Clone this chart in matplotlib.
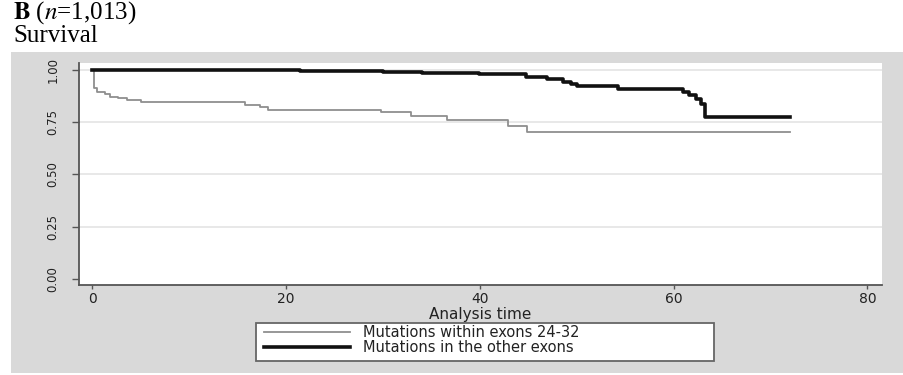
import matplotlib
matplotlib.use("Agg")
import matplotlib.pyplot as plt
from matplotlib.patches import Rectangle

plt.rcParams["mathtext.fontset"] = "stix"

# Kaplan-Meier estimates, analysis time vs survival
t_exons = [0, 0.15, 0.5, 1.3, 1.9, 2.7, 3.6, 5.0, 15.8, 17.3, 18.2, 29.8, 32.9, 36.6, 42.9, 44.9, 72]
s_exons = [1.0, 0.912, 0.896, 0.884, 0.872, 0.864, 0.856, 0.845, 0.833, 0.822, 0.809,
           0.797, 0.781, 0.761, 0.732, 0.702, 0.702]
t_other = [0, 21.5, 26, 30, 34, 39.9, 44.8, 46.9, 48.6, 49.4, 50.0, 54.3, 61.0, 61.6,
           62.3, 62.8, 63.2, 72]
s_other = [1.0, 0.997, 0.993, 0.989, 0.984, 0.978, 0.968, 0.955, 0.943, 0.932, 0.923,
           0.908, 0.896, 0.880, 0.860, 0.837, 0.777, 0.777]

labels = ["Mutations within exons 24-32", "Mutations in the other exons"]
xticks = [0, 20, 40, 60, 80]
yticks = [0.0, 0.25, 0.5, 0.75, 1.0]
ytick_labels = ["0.00", "0.25", "0.50", "0.75", "1.00"]

W, H = 904, 375
fig = plt.figure(figsize=(W / 100, H / 100), dpi=100)
fig.patch.set_facecolor("white")

# grey graph region behind the plot
fig.patches.append(Rectangle((11 / W, 1 - 373 / H), (W - 11) / W, (373 - 52) / H,
                             transform=fig.transFigure, facecolor="#d9d9d9",
                             edgecolor="none", zorder=-5))
# legend box
fig.patches.append(Rectangle((256 / W, 1 - 361 / H), (714 - 256) / W, 38 / H,
                             transform=fig.transFigure, facecolor="white",
                             edgecolor="#666666", lw=1.3, zorder=-4))

ax = fig.add_axes([79 / W, 1 - 285 / H, (882 - 79) / W, (285 - 63) / H])
ax.set_facecolor("white")

ax.step(t_exons, s_exons, where="post", color="#8f8f8f", lw=1.3, label=labels[0], zorder=3)
ax.step(t_other, s_other, where="post", color="#111111", lw=2.6, label=labels[1], zorder=4)

ax.set_xlim(-1.35, 81.5)
ax.set_ylim(-0.029, 1.033)
ax.set_xticks(xticks)
ax.set_yticks(yticks)
ax.set_yticklabels(ytick_labels, rotation=90, va="center")

for y in yticks[1:]:
    ax.axhline(y, color="#e4e4e4", lw=1.2, zorder=1)

for side in ["top", "right"]:
    ax.spines[side].set_visible(False)
for side in ["left", "bottom"]:
    ax.spines[side].set_color("#555555")
    ax.spines[side].set_linewidth(1.3)

ax.tick_params(axis="x", length=3, width=1, color="#555555", pad=2,
               labelsize=10, labelcolor="#222222")
ax.tick_params(axis="y", length=5, width=1, color="#555555", pad=9,
               labelsize=8.5, labelcolor="#222222")
for lab in ax.get_xticklabels() + ax.get_yticklabels():
    lab.set_family("DejaVu Sans")

ax.set_xlabel("Analysis time", fontsize=11, family="DejaVu Sans", color="#222222", labelpad=1)

leg = ax.legend(loc="upper left", bbox_to_anchor=(263 / W, 1 - 324 / H),
                bbox_transform=fig.transFigure, ncol=1,
                prop={"family": "DejaVu Sans", "size": 10.5}, frameon=False,
                borderpad=0.1, labelspacing=0.0,
                handlelength=5.9, handletextpad=0.85, borderaxespad=0)
for txt in leg.get_texts():
    txt.set_color("#222222")

# panel title
fig.text(13 / W, 1 - 19 / H, r"$\mathbf{B}$ ($\mathit{n}$=1,013)", fontsize=18,
         family="Liberation Serif", va="baseline", ha="left")
fig.text(13 / W, 1 - 42 / H, "Survival", fontsize=18, family="Liberation Serif",
         va="baseline", ha="left")

fig.savefig("out.png", dpi=100)
